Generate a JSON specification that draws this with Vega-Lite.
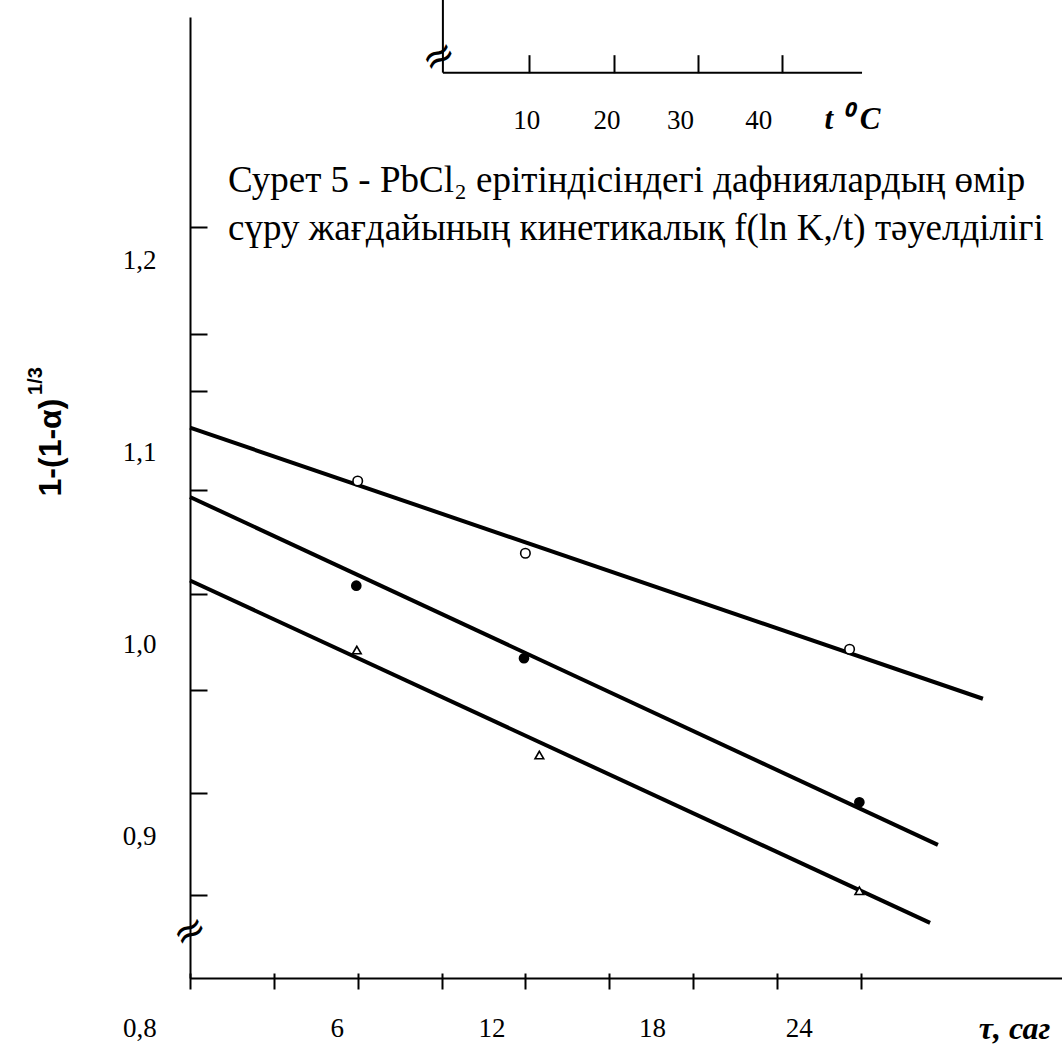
{
  "$schema": "https://vega.github.io/schema/vega-lite/v6.json",
  "width": 872,
  "height": 961,
  "autosize": "none",
  "padding": {"left": 190, "top": 17, "right": 0, "bottom": 67},
  "background": "white",
  "config": {
    "view": {"stroke": null},
    "axis": {
      "grid": false,
      "domainColor": "black",
      "domainWidth": 2,
      "tickColor": "black",
      "tickWidth": 2,
      "labelColor": "black",
      "titleColor": "black",
      "labelFont": "Liberation Serif",
      "labelFontSize": 27,
      "labelFlush": false,
      "labelOverlap": false,
      "labelBound": false
    }
  },
  "resolve": {"scale": {"x": "independent", "y": "independent"}, "axis": {"x": "independent", "y": "independent"}},
  "layer": [
    {
      "data": {"values": [
        {"t": 0, "v": 1.1132, "series": "A"},
        {"t": 28.37, "v": 0.972, "series": "A"},
        {"t": 0, "v": 1.0771, "series": "B"},
        {"t": 26.76, "v": 0.8959, "series": "B"},
        {"t": 0, "v": 1.0336, "series": "C"},
        {"t": 26.48, "v": 0.8553, "series": "C"}
      ]},
      "mark": {"type": "line", "color": "black", "strokeWidth": 4},
      "encoding": {
        "x": {"field": "t", "type": "quantitative", "scale": {"domain": [0, 31.2], "nice": false, "zero": false},
              "axis": {"orient": "bottom", "ticks": false, "labels": false, "domain": true, "title": null}},
        "y": {"field": "v", "type": "quantitative", "scale": {"domain": [0.82656, 1.32708], "nice": false, "zero": false},
              "axis": {"orient": "left", "values": [0.8696, 0.9228, 0.9766, 1.0266, 1.0807, 1.1324, 1.162, 1.2179], "tickSize": -17, "labels": false, "domain": true, "title": null}},
        "detail": {"field": "series", "type": "nominal"}
      }
    },
    {
      "data": {"values": [
        {"t": 6, "v": 1.0854, "series": "A"},
        {"t": 12, "v": 1.0478, "series": "A"},
        {"t": 23.6, "v": 0.9978, "series": "A"},
        {"t": 5.95, "v": 1.0309, "series": "B"},
        {"t": 11.95, "v": 0.9931, "series": "B"},
        {"t": 23.95, "v": 0.9181, "series": "B"},
        {"t": 5.97, "v": 0.9974, "series": "C"},
        {"t": 12.5, "v": 0.9427, "series": "C"},
        {"t": 23.95, "v": 0.872, "series": "C"}
      ]},
      "mark": {"type": "point", "filled": true, "stroke": "black", "strokeWidth": 1.6, "opacity": 1},
      "encoding": {
        "x": {"field": "t", "type": "quantitative", "scale": {"domain": [0, 31.2], "nice": false, "zero": false},
              "axis": {"orient": "bottom", "values": [0, 3, 6, 9, 12, 15, 18, 21, 24], "labels": false, "domain": false, "ticks": true, "tickSize": 16, "offset": -5, "title": null}},
        "y": {"field": "v", "type": "quantitative", "scale": {"domain": [0.82656, 1.32708], "nice": false, "zero": false},
              "axis": {"orient": "left", "values": [0.9, 1.0, 1.1, 1.2], "ticks": false, "domain": false, "labelPadding": 34,
                       "labelExpr": "replace(format(datum.value, '.1f'), '.', ',')",
                       "title": "1-(1-α)", "titleFont": "Liberation Sans", "titleFontWeight": "bold", "titleFontSize": 32,
                       "titleAngle": 270, "titleX": -140, "titleY": 430, "titleAlign": "center", "titleBaseline": "middle"}},
        "shape": {"field": "series", "type": "nominal", "scale": {"domain": ["A", "B", "C"], "range": ["circle", "circle", "triangle-up"]}, "legend": null},
        "fill": {"field": "series", "type": "nominal", "scale": {"domain": ["A", "B", "C"], "range": ["white", "black", "white"]}, "legend": null},
        "size": {"field": "series", "type": "nominal", "scale": {"domain": ["A", "B", "C"], "range": [90, 75, 50]}, "legend": null}
      }
    },
    {
      "data": {"values": [{}]},
      "mark": {"type": "text", "font": "Liberation Serif", "fontSize": 27, "align": "center", "baseline": "middle", "color": "black"},
      "encoding": {
        "x": {"datum": -1.79, "type": "quantitative", "scale": {"domain": [0, 31.2], "nice": false, "zero": false},
              "axis": {"orient": "bottom", "values": [6, 12, 18, 24], "ticks": false, "domain": false, "labelPadding": 50, "labelBaseline": "middle",
                       "labelOffset": {"expr": "datum.value == 6 ? -21 : datum.value == 12 ? -34 : datum.value == 18 ? -41 : -62"},
                       "title": "τ, саг", "titleFont": "Liberation Serif", "titleFontSize": 32, "titleFontWeight": "bold", "titleFontStyle": "italic",
                       "titleX": 824, "titleY": 50, "titleAlign": "center", "titleBaseline": "middle", "titleAngle": 0}},
        "y": {"datum": 0.8, "type": "quantitative", "scale": {"domain": [0.82656, 1.32708], "nice": false, "zero": false}, "axis": null},
        "text": {"value": "0,8"}
      }
    },
    {
      "data": {"values": [{}]},
      "mark": {"type": "text", "font": "Liberation Serif", "fontSize": 37, "align": "left", "baseline": "alphabetic", "color": "black"},
      "encoding": {
        "x": {"datum": 1.36, "type": "quantitative", "scale": {"domain": [0, 31.2], "nice": false, "zero": false}, "axis": null},
        "y": {"datum": 1.2359, "type": "quantitative", "scale": {"domain": [0.82656, 1.32708], "nice": false, "zero": false}, "axis": null},
        "text": {"value": "Сурет 5 -  PbCl₂ ерітіндісіндегі дафниялардың өмір"}
      }
    },
    {
      "data": {"values": [{}]},
      "mark": {"type": "text", "font": "Liberation Serif", "fontSize": 37, "align": "left", "baseline": "alphabetic", "color": "black"},
      "encoding": {
        "x": {"datum": 1.36, "type": "quantitative", "scale": {"domain": [0, 31.2], "nice": false, "zero": false}, "axis": null},
        "y": {"datum": 1.2109, "type": "quantitative", "scale": {"domain": [0.82656, 1.32708], "nice": false, "zero": false}, "axis": null},
        "text": {"value": "сүру жағдайының кинетикалық  f(ln K,/t) тәуелділігі"}
      }
    },
    {
      "data": {"values": [{}]},
      "mark": {"type": "text", "font": "Liberation Sans", "fontWeight": "bold", "fontSize": 20, "angle": 270, "align": "center", "baseline": "middle", "color": "black"},
      "encoding": {
        "x": {"datum": -5.5, "type": "quantitative", "scale": {"domain": [0, 31.2], "nice": false, "zero": false}, "axis": null},
        "y": {"datum": 1.1375, "type": "quantitative", "scale": {"domain": [0.82656, 1.32708], "nice": false, "zero": false}, "axis": null},
        "text": {"value": "1/3"}
      }
    },
    {
      "data": {"values": [{}]},
      "mark": {"type": "text", "font": "DejaVu Sans", "fontSize": 40, "angle": 330, "align": "center", "baseline": "middle", "color": "black"},
      "encoding": {
        "x": {"datum": 0.0, "type": "quantitative", "scale": {"domain": [0, 31.2], "nice": false, "zero": false}, "axis": null},
        "y": {"datum": 0.8506, "type": "quantitative", "scale": {"domain": [0.82656, 1.32708], "nice": false, "zero": false}, "axis": null},
        "text": {"value": "≈"}
      }
    },
    {
      "data": {"values": [{}]},
      "mark": {"type": "text", "font": "DejaVu Sans", "fontSize": 40, "angle": 330, "align": "center", "baseline": "middle", "color": "black"},
      "encoding": {
        "x": {"datum": 8.91, "type": "quantitative", "scale": {"domain": [0, 31.2], "nice": false, "zero": false}, "axis": null},
        "y": {"datum": 1.3063, "type": "quantitative", "scale": {"domain": [0.82656, 1.32708], "nice": false, "zero": false}, "axis": null},
        "text": {"value": "≈"}
      }
    },
    {
      "data": {"values": [{}]},
      "mark": {"type": "rule", "color": "black", "strokeWidth": 2},
      "encoding": {
        "x": {"datum": -0.25, "type": "quantitative", "scale": {"domain": [-30.25, 73.19], "nice": false, "zero": false},
              "axis": {"orient": "top", "offset": -55.7, "values": [10, 20, 30, 40], "domain": false, "tickSize": 18,
                       "labelPadding": -65.3, "labelBaseline": "middle",
                       "labelOffset": {"expr": "datum.value == 10 ? -3 : datum.value == 20 ? -7 : datum.value == 30 ? -18 : -24"},
                       "title": "t ⁰ C", "titleFont": "Liberation Serif", "titleFontSize": 31, "titleFontWeight": "bold", "titleFontStyle": "italic",
                       "titleX": 662, "titleY": 47, "titleAlign": "center", "titleBaseline": "middle", "titleAngle": 0}},
        "y": {"datum": 1.336, "type": "quantitative", "scale": {"domain": [0.82656, 1.32708], "nice": false, "zero": false}, "axis": null},
        "y2": {"datum": 1.2981}
      }
    },
    {
      "data": {"values": [{}]},
      "mark": {"type": "rule", "color": "black", "strokeWidth": 2},
      "encoding": {
        "x": {"datum": -0.25, "type": "quantitative", "scale": {"domain": [-30.25, 73.19], "nice": false, "zero": false}, "axis": null},
        "x2": {"datum": 49.47},
        "y": {"datum": 1.2981, "type": "quantitative", "scale": {"domain": [0.82656, 1.32708], "nice": false, "zero": false}, "axis": null}
      }
    }
  ]
}
